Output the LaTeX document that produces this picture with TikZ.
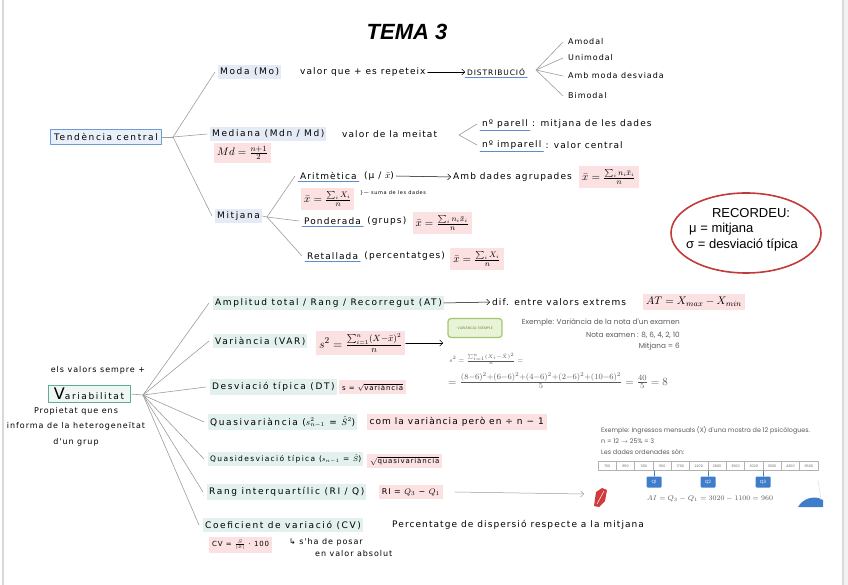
\documentclass[tikz,border=0pt]{standalone}
\usepackage{fontspec}
\usepackage{amsmath}
\usetikzlibrary{arrows.meta,shapes.geometric,positioning}
\newfontfamily\handfont[LetterSpace=12]{DejaVu Sans}
\newfontfamily\topicfont[LetterSpace=18]{DejaVu Sans}
\newfontfamily\exfont{Poppins}
\newfontfamily\headfont{Liberation Sans}
\definecolor{topicblue}{HTML}{E4EBF4}
\definecolor{topicgreen}{HTML}{E2F0EE}
\definecolor{pinkhl}{HTML}{FBE1E1}
\definecolor{ulblue}{HTML}{5B8FCB}
\definecolor{linegray}{HTML}{9C9C9C}
\definecolor{recred}{HTML}{C23A3A}
\definecolor{tcblue}{HTML}{6D9CD3}
\definecolor{tcfill}{HTML}{E9F0FA}
\definecolor{vgreen}{HTML}{5FAE8E}
\definecolor{vfill}{HTML}{EEF7F3}
\definecolor{exgreen}{HTML}{A2C76E}
\definecolor{exfill}{HTML}{E8F3D8}
\definecolor{qblue}{HTML}{3F7DCB}
\definecolor{leafred}{HTML}{D23B3B}
\tikzset{
  every picture/.style={line join=round,line cap=round,>=Stealth},
  hand/.style={font=\handfont\fontsize{9}{10}\selectfont,anchor=west,inner sep=2pt},
  tiny hand/.style={hand,font=\handfont\fontsize{8}{9}\selectfont},
  topic/.style={hand,font=\topicfont\fontsize{9}{10}\selectfont,fill=topicblue,inner ysep=3pt},
  vtopic/.style={topic,fill=topicgreen},
  formula/.style={anchor=west,fill=pinkhl,inner sep=3pt,font=\fontsize{11}{13}\selectfont},
  branch/.style={draw=linegray,line width=0.6pt},
  harrow/.style={-{Straight Barb[length=3pt]},line width=0.5pt},
  uline/.style={draw=ulblue,line width=0.9pt},
  exnote/.style={font=\exfont\fontsize{7.3}{8}\selectfont,text=black!65,inner sep=0pt,anchor=west},
  cell/.style={draw=gray!60,minimum width=18.33pt,minimum height=9pt,inner sep=0pt,
    font=\exfont\fontsize{3.4}{4}\selectfont,text=black!60},
  qbox/.style={fill=qblue,text=white,minimum width=15pt,minimum height=11pt,inner sep=0pt,
    rounded corners=1pt,font=\exfont\fontsize{4.5}{5}\selectfont},
}
\begin{document}
\begin{tikzpicture}[x=1pt,y=-1pt]
\useasboundingbox (0,0) rectangle (848,585);
\fill[gray!10] (843,0) rectangle (848,585);
\draw[gray!30,line width=1.2pt] (3,0) -- (3,585) (843,0) -- (843,585);

\node[font=\headfont\bfseries\itshape\fontsize{22}{24}\selectfont] (title) at (407,32) {TEMA 3};

% tendencia central
\node[topic,draw=tcblue,fill=tcfill,line width=0.8pt,inner sep=3.5pt,anchor=center] (tc) at (106,137) {Tendència central};
\coordinate (tcfork) at (173,137);
\node[topic] (moda) at (218,72) {Moda (Mo)};
\node[hand] (modatxt) at (298,72) {valor que + es repeteix};
\node[tiny hand,font=\handfont\fontsize{7.5}{9}\selectfont] (distr) at (465,72) {DISTRIBUCIÓ};
\coordinate (dfork) at (536,70);
\node[tiny hand] (amodal) at (566,42) {Amodal};
\node[tiny hand] (unimodal) at (566,58) {Unimodal};
\node[tiny hand] (desviada) at (566,76) {Amb moda desviada};
\node[tiny hand] (bimodal) at (566,96) {Bimodal};

\node[topic] (med) at (210,134) {Mediana (Mdn / Md)};
\node[hand] (medtxt) at (340,134) {valor de la meitat};
\coordinate (mfork) at (459,135);
\node[hand] (parell) at (480,124) {nº parell};
\node[hand,right=0pt of parell] (parelltxt) {: mitjana de les dades};
\node[hand] (imparell) at (480,145) {nº imparell};
\node[hand,right=0pt of imparell] (imparelltxt) {: valor central};
\node[formula] (mdf) at (214,153) {$Md=\frac{n+1}{2}$};

\node[topic] (mitj) at (215,216) {Mitjana};
\coordinate (jfork) at (267,217);
\node[hand] (arit) at (298,176) {Aritmètica};
\node[hand,right=3pt of arit] (aritsym) {(μ / $\bar{x}$)};
\node[hand] (agrup) at (451,177) {Amb dades agrupades};
\node[formula,right=5pt of agrup] (agrupf) {$\bar{x}=\frac{\sum_i n_i\bar{x}_i}{n}$};
\node[formula] (aritf) at (301,199) {$\bar{x}=\frac{\sum_i X_i}{n}$};
\node[hand,font=\handfont\fontsize{5}{6}\selectfont] (suma) at (358,193) {\}— suma de les dades};
\node[hand] (pond) at (302,221) {Ponderada};
\node[hand,right=2pt of pond] (grups) {(grups)};
\node[formula,right=4pt of grups,yshift=-2pt] (pondf) {$\bar{x}=\frac{\sum_i n_i\bar{x}_i}{n}$};
\node[hand] (retall) at (305,256) {Retallada};
\node[hand,right=2pt of retall] (perc) {(percentatges)};
\node[formula,right=3pt of perc,yshift=-3pt] (retallf) {$\bar{x}=\frac{\sum_i X_i}{n}$};

\foreach \a/\b in {tcfork/moda,tcfork/med,tcfork/mitj,dfork/amodal,dfork/unimodal,dfork/desviada,
  dfork/bimodal,mfork/parell,mfork/imparell,jfork/arit,jfork/pond,jfork/retall}
  \draw[branch] (\a) -- ([xshift=-3pt]\b.west);
\draw[branch] (tc.east) -- (tcfork);
\draw[branch] (mitj.east) -- (jfork);
\draw[harrow] (modatxt.east) -- (distr.west);
\draw[harrow] (aritsym.east) -- (agrup.west);
\foreach \n in {distr,parell,imparell,arit,pond,retall}
  \draw[uline] (\n.south west) -- (\n.south east);

% recordeu
\node[draw=recred,ellipse,line width=1.6pt,minimum width=150pt,minimum height=80pt] (recordeu) at (746,233) {};
\node[font=\headfont\fontsize{13}{14}\selectfont] (rectit) at (751,213) {RECORDEU:};
\node[font=\headfont\fontsize{13}{14}\selectfont,anchor=west,inner sep=0pt] (recmu) at (689,229) {μ = mitjana};
\node[font=\headfont\fontsize{13}{14}\selectfont,anchor=west,inner sep=0pt] (recsig) at (686,245) {σ = desviació típica};

% variabilitat
\node[tiny hand,anchor=center] (sempre) at (98,370) {els valors sempre +};
\node[topic,draw=vgreen,fill=vfill,line width=0.8pt,inner xsep=6pt,inner ysep=2.5pt,anchor=center] (vari) at (89,394)
  {{\fontsize{16}{16}\selectfont V}ariabilitat};
\node[tiny hand,anchor=north,align=center,font=\handfont\fontsize{8}{15.5}\selectfont] (prop) at (76,405)
  {Propietat que ens\\informa de la heterogeneïtat\\d'un grup};
\coordinate (vfork) at (143,395);

\node[vtopic] (amp) at (213,303) {Amplitud total / Rang / Recorregut (AT)};
\node[hand] (dif) at (490,302) {dif. entre valors extrems};
\node[formula] (ampf) at (643,302) {$AT=X_{max}-X_{min}$};

\node[vtopic] (var) at (213,341) {Variància (VAR)};
\node[formula,font=\fontsize{13}{15}\selectfont] (varf) at (316,343) {$s^2=\frac{\sum_{i=1}^{n}(X-\bar{x})^2}{n}$};
\coordinate (varend) at (443,343);
\node[draw=exgreen,fill=exfill,line width=1.2pt,rounded corners=3pt,minimum width=54pt,minimum height=19pt,
  inner sep=1pt,text=exgreen!70!black,font=\exfont\fontsize{3.6}{4}\selectfont] (exbox) at (475,328) {VARIÀNCIA: EXEMPLE};
\node[exnote,anchor=east] (ex1) at (680,323) {Exemple: Variància de la nota d'un examen};
\node[exnote,anchor=east] (ex2) at (680,335) {Nota examen : 8, 6, 4, 2, 10};
\node[exnote,anchor=east] (ex3) at (680,347) {Mitjana = 6};
\node[anchor=west,text=black!65,font=\fontsize{6.5}{8}\selectfont,inner sep=0pt] (exs1) at (449,359)
  {$s^2=\frac{\sum_{i=1}^{n}(X_i-\bar{X})^2}{n}=$};
\node[anchor=west,text=black!65,font=\fontsize{11.3}{12}\selectfont,inner sep=0pt] (exs2) at (448,381)
  {$=\frac{(8-6)^2+(6-6)^2+(4-6)^2+(2-6)^2+(10-6)^2}{5}=\frac{40}{5}=8$};

\node[vtopic] (dt) at (210,387) {Desviació típica (DT)};
\node[formula,font=\handfont\fontsize{7}{8}\selectfont,right=2pt of dt] (dtf) {s = $\sqrt{\text{variància}}$};

\node[vtopic] (qvar) at (208,422) {Quasivariància ($s^2_{n-1}$ = $\hat{S}^2$)};
\node[formula,font=\handfont\fontsize{9}{10}\selectfont,right=9pt of qvar] (qvarf) {com la variància però en ÷ n − 1};

\node[vtopic,font=\topicfont\fontsize{7.5}{9}\selectfont] (qdt) at (208,459) {Quasidesviació típica ($s_{n-1}$ = $\hat{S}$)};
\node[formula,font=\handfont\fontsize{7}{8}\selectfont,right=3pt of qdt,yshift=-2pt] (qdtf) {$\sqrt{\text{quasivariància}}$};

\node[vtopic] (ri) at (207,492) {Rang interquartílic (RI / Q)};
\node[formula,font=\handfont\fontsize{8}{9}\selectfont,right=12pt of ri] (rif) {RI = $Q_3$ − $Q_1$};
\coordinate (leaf) at (593,494);

\node[vtopic] (cv) at (203,525) {Coeficient de variació (CV)};
\node[hand] (cvtxt) at (390,525) {Percentatge de dispersió respecte a la mitjana};
\node[formula,font=\handfont\fontsize{7}{8}\selectfont] (cvf) at (209,545) {CV = $\frac{S}{|\bar{x}|}$ · 100};
\node[tiny hand] (abs1) at (287,542) {↳ s'ha de posar};
\node[tiny hand] (abs2) at (313,554) {en valor absolut};

\foreach \n in {amp,var,dt,qvar,qdt,ri,cv}
  \draw[branch] (vfork) -- ([xshift=-4pt]\n.west);
\draw[branch] (vari.east) -- (vfork);
\draw[harrow] (amp.east) -- (dif.west);
\draw[harrow] (varf.east) -- (varend);
\draw[harrow,draw=gray!80] (rif.east) ++(12pt,0) -- ([xshift=-9pt]leaf);

% exemple rang interquartilic
\fill[leafred] (594,506) -- (596,492) -- (602,488) -- (607,490) -- (605,501) -- (599,507) -- cycle;
\draw[white,line width=0.5pt] (597,504) -- (604,491);
\node[exnote,font=\exfont\fontsize{6.4}{7}\selectfont] (ri1) at (601,430) {Exemple: Ingressos mensuals (X) d'una mostra de 12 psicòlogues.};
\node[exnote,font=\exfont\fontsize{6.4}{7}\selectfont] (ri2) at (601,441) {n = 12 $\rightarrow$ 25\% = 3};
\node[exnote,font=\exfont\fontsize{6.4}{7}\selectfont] (ri3) at (601,452) {Les dades ordenades són:};
\foreach \v [count=\i] in {700,950,1100,1100,1700,2200,2600,3000,3020,3500,4300,6500}
  \node[cell] (c\i) at ({598+18.33*(\i-0.5)},466) {\v};
\node[qbox] (q1) at (654,482) {Q1};
\node[qbox] (q2) at (708,482) {Q2};
\node[qbox] (q3) at (763,482) {Q3};
\draw[qblue,line width=0.4pt] (q1.north) -- (q1.north |- c3.south)
  (q2.north) -- (q2.north |- c6.south) (q3.north) -- (q3.north |- c9.south);
\node[text=black!65,font=\scriptsize] (aiq) at (710,499) {$AI=Q_3-Q_1=3020-1100=960$};
\fill[qblue] (798,507) .. controls (803,498) and (815,495) .. (823,500) -- (823,507) -- cycle;
\draw[gray!25,line width=0.5pt] (818,480) -- (821,500);
\end{tikzpicture}
\end{document}
